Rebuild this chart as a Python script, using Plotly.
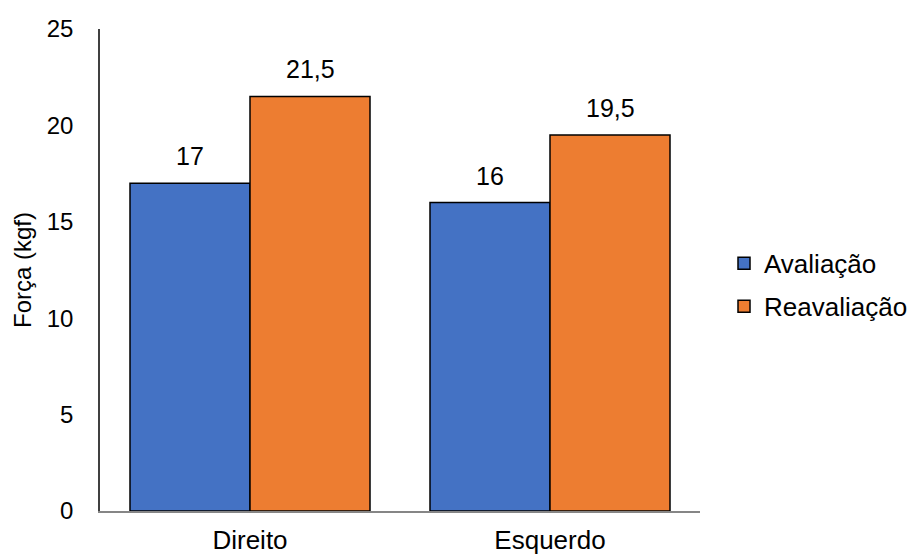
import plotly.graph_objects as go

categories = ["Direito", "Esquerdo"]
avaliacao = [17, 16]
reavaliacao = [21.5, 19.5]
series_names = ["Avaliação", "Reavaliação"]
y_ticks = [0, 5, 10, 15, 20, 25]

FONT = "Liberation Sans, Arial, sans-serif"
colors = ["#4472C4", "#ED7D31"]

def fmt(v):
    s = f"{v:g}"
    return s.replace(".", ",")

fig = go.Figure()
for name, vals, col in zip(series_names, [avaliacao, reavaliacao], colors):
    fig.add_trace(go.Bar(
        x=categories, y=vals, name=name, legendgroup=name,
        marker=dict(color=col, line=dict(color="#000000", width=1.5)),
    ))

annotations = []
for vals, shift in zip([avaliacao, reavaliacao], [-60, 60]):
    for c, v in zip(categories, vals):
        annotations.append(dict(
            x=c, y=v, xref="x", yref="y", text=fmt(v), showarrow=False,
            xshift=shift, yanchor="bottom", yshift=11,
            font=dict(family=FONT, size=25, color="#000000"),
        ))
annotations.append(dict(
    x=-0.13, y=0.5, xref="paper", yref="paper", text="Força (kgf)",
    textangle=-90, showarrow=False, xanchor="center", yanchor="middle",
    font=dict(family=FONT, size=24, color="#000000"),
))

fig.update_layout(
    width=910, height=557,
    margin=dict(l=100, r=210, t=29, b=46, autoexpand=False),
    paper_bgcolor="white", plot_bgcolor="white",
    barmode="group", bargap=0.2, bargroupgap=0,
    font=dict(family=FONT, size=24, color="#000000"),
    annotations=annotations,
    legend=dict(
        x=1.04, y=0.469, xanchor="left", yanchor="middle",
        font=dict(family=FONT, size=26, color="#000000"),
        itemwidth=30, tracegroupgap=6, bgcolor="rgba(0,0,0,0)",
    ),
    showlegend=True,
)
fig.update_xaxes(
    showline=True, linecolor="#868686", linewidth=1.5, showgrid=False,
    ticks="", tickfont=dict(family=FONT, size=26, color="#000000"),
    ticklabelstandoff=5,
)
fig.update_yaxes(
    range=[0, 25], tickvals=y_ticks, showline=True, linecolor="#404040",
    linewidth=1.5, showgrid=False, zeroline=False, ticks="",
    tickfont=dict(family=FONT, size=24, color="#000000"),
    ticklabelstandoff=20,
)

fig.write_html("out.html")
